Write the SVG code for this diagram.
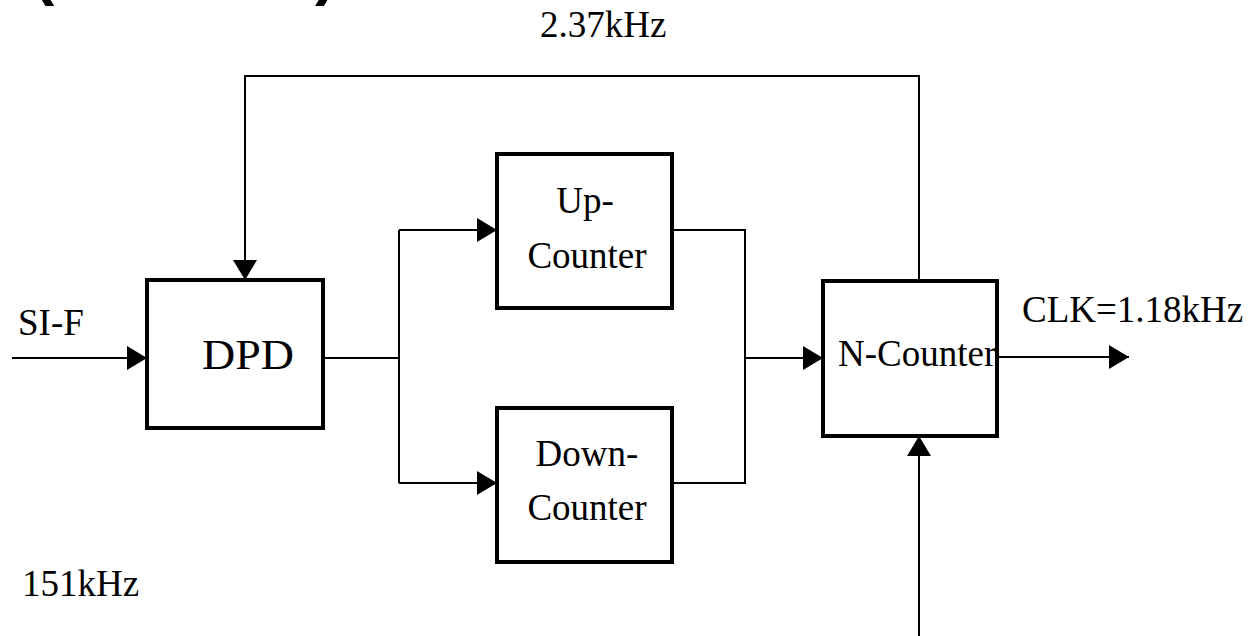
<svg xmlns="http://www.w3.org/2000/svg" width="1250" height="636" viewBox="0 0 1250 636">
<style>
.box{fill:#fff;stroke:#000;stroke-width:4}
.w{fill:none;stroke:#000;stroke-width:2}
.t{font-family:"Liberation Serif","Times New Roman",serif;font-size:37px;fill:#000}
.p{font-family:"Liberation Sans",Arial,sans-serif;font-weight:bold;font-size:64px;fill:#000}
</style>
<defs>
<marker id="ah" viewBox="0 0 20 24" refX="20" refY="12" markerWidth="20" markerHeight="24" markerUnits="userSpaceOnUse" orient="auto">
<path d="M0,0 L20,12 L0,24 Z" fill="#000"/>
</marker>
</defs>
<rect width="1250" height="636" fill="#fff"/>
<text class="p" x="33" y="-7">(</text>
<text class="p" x="315" y="-7">)</text>
<g id="connectors">
<path class="w" d="M12,358 H147" marker-end="url(#ah)"/>
<path class="w" d="M919,281 V76 H245 V280" marker-end="url(#ah)"/>
<path class="w" d="M323,358 H399"/>
<path class="w" d="M399,230 V483"/>
<path class="w" d="M399,230 H497" marker-end="url(#ah)"/>
<path class="w" d="M399,483 H497" marker-end="url(#ah)"/>
<path class="w" d="M668,230 H745 V483 H668"/>
<path class="w" d="M745,358 H823" marker-end="url(#ah)"/>
<path class="w" d="M997,357 H1129" marker-end="url(#ah)"/>
<path class="w" d="M919,636 V436" marker-end="url(#ah)"/>
</g>
<g id="dpd">
<rect class="box" x="147" y="280" width="176" height="148"/>
<text class="t" x="248" y="369" text-anchor="middle" style="font-size:42px" textLength="92" lengthAdjust="spacingAndGlyphs">DPD</text>
</g>
<g id="up-counter">
<rect class="box" x="497" y="154" width="175" height="154"/>
<text class="t" x="585" y="213" text-anchor="middle">Up-</text>
<text class="t" x="587" y="268" text-anchor="middle">Counter</text>
</g>
<g id="down-counter">
<rect class="box" x="497" y="408" width="175" height="154"/>
<text class="t" x="587" y="466" text-anchor="middle">Down-</text>
<text class="t" x="587" y="520" text-anchor="middle">Counter</text>
</g>
<g id="n-counter">
<rect class="box" x="823" y="281" width="174" height="155"/>
<text class="t" x="838" y="366">N-Counter</text>
</g>
<g id="labels">
<text class="t" x="540" y="37">2.37kHz</text>
<text class="t" x="18" y="335">SI-F</text>
<text class="t" x="1022" y="322">CLK=1.18kHz</text>
<text class="t" x="22" y="596">151kHz</text>
</g>
</svg>
